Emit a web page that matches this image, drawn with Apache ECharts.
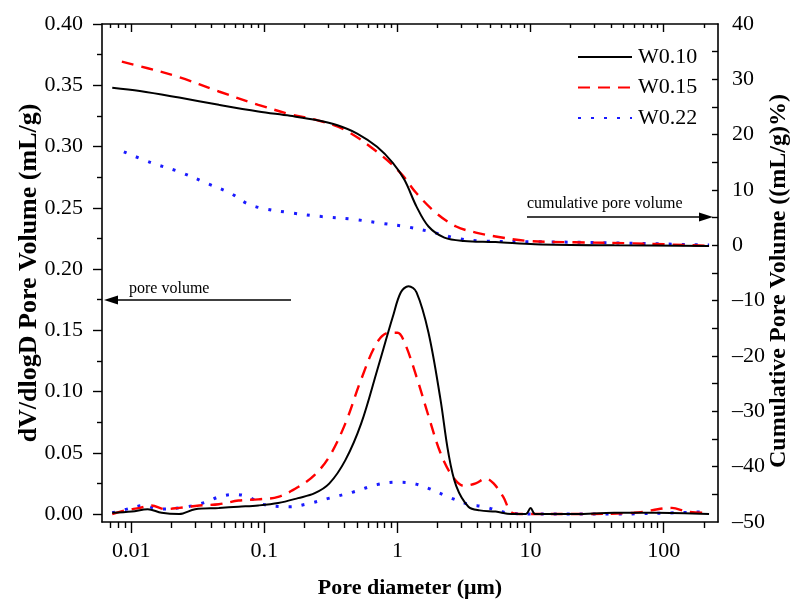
<!DOCTYPE html>
<html><head><meta charset="utf-8">
<script src="https://cdn.jsdelivr.net/npm/echarts@6/dist/echarts.min.js"></script>
<style>html,body{margin:0;padding:0;background:#fff}#c{width:797px;height:602px}</style>
</head><body><div id="c"></div>
<script>
// ---- data ----
const seriesNames = ['W0.10', 'W0.15', 'W0.22'];

// cumulative pore volume ((mL/g)%), right axis
const cumD_W010 = [0.0072,0.0116,0.0229,0.0455,0.090,0.156,0.251,0.354,0.498,0.702,0.922,1.13,1.39,1.71,2.25,3.16,5.46,10.8,42.5,219];
const cumV_W010 = [28.5,27.9,26.7,25.4,24.2,23.4,22.6,21.7,20.2,17.8,14.9,11.8,7.0,3.4,1.4,0.8,0.6,0.2,0.0,-0.1];

const cumD_W015 = [0.0085,0.0133,0.0229,0.0455,0.090,0.156,0.251,0.406,0.702,1.06,1.39,1.96,2.76,3.88,5.46,9.44,21.4,59.7,227];
const cumV_W015 = [33.2,32.0,30.4,27.8,25.4,23.7,22.6,20.8,16.9,13.0,9.4,5.8,3.4,2.3,1.6,0.8,0.55,0.35,-0.1];

const cumD_W022 = [0.0088,0.0142,0.0229,0.0371,0.0559,0.0735,0.0965,0.156,0.269,0.466,0.752,1.21,1.96,2.76,4.15,10.8,42.5,219];
const cumV_W022 = [16.9,14.9,13.3,11.2,9.4,7.6,6.7,5.9,5.2,4.7,4.0,3.3,2.2,1.3,0.8,0.65,0.45,0.05];

// dV/dlogD pore volume (mL/g), left axis
const pvD_W010 = [0.0072,0.0101,0.0133,0.0169,0.0229,0.0302,0.0455,0.064,0.090,0.127,0.179,0.239,0.308,0.406,0.534,0.702,0.922,1.06,1.21,1.39,1.71,2.10,2.41,2.76,3.41,4.15,5.46,7.16,9.2,10.0,10.8,21.4,42.5,84.6,219];
const pvV_W010 = [0.001,0.002,0.004,0.001,0.000,0.004,0.005,0.006,0.007,0.009,0.013,0.017,0.025,0.044,0.074,0.117,0.161,0.181,0.186,0.181,0.148,0.094,0.050,0.023,0.006,0.003,0.002,0.000,0.000,0.005,0.000,0.000,0.001,0.001,0.000];

const pvD_W015 = [0.0072,0.0090,0.0116,0.0142,0.018,0.0229,0.0324,0.0455,0.064,0.090,0.127,0.179,0.239,0.308,0.406,0.534,0.702,0.865,1.00,1.13,1.39,1.71,2.10,2.58,3.16,3.87,4.62,5.27,6.23,7.26,8.76,21.4,59.7,115,150,219];
const pvV_W015 = [0.000,0.003,0.005,0.007,0.004,0.005,0.007,0.008,0.011,0.012,0.014,0.022,0.032,0.047,0.074,0.110,0.140,0.148,0.148,0.140,0.112,0.080,0.050,0.031,0.023,0.025,0.029,0.025,0.014,0.001,0.000,0.000,0.001,0.005,0.002,0.001];

const pvD_W022 = [0.0072,0.0101,0.0124,0.0163,0.0263,0.0371,0.0455,0.0597,0.0761,0.0965,0.156,0.205,0.308,0.466,0.702,1.00,1.30,1.71,2.41,3.41,4.47,6.7,10.8,42.5,120,219];
const pvV_W022 = [0.001,0.005,0.007,0.004,0.006,0.010,0.014,0.016,0.014,0.008,0.006,0.008,0.013,0.018,0.024,0.026,0.025,0.021,0.014,0.008,0.006,0.001,0.000,0.000,0.001,0.002];

// axis ticks / labels
const xMajorTicks = [0.01, 0.1, 1, 10, 100];
const xMinorTicks = [0.007,0.008,0.009,0.02,0.03,0.04,0.05,0.06,0.07,0.08,0.09,0.2,0.3,0.4,0.5,0.6,0.7,0.8,0.9,2,3,4,5,6,7,8,9,20,30,40,50,60,70,80,90,200];
const leftMajor = [0,0.05,0.10,0.15,0.20,0.25,0.30,0.35,0.40];
const leftMinor = [0.025,0.075,0.125,0.175,0.225,0.275,0.325,0.375];
const rightLabels = [-50,-40,-30,-20,-10,0,10,20,30,40];
const rightTicks = [-45,-40,-35,-30,-25,-20,-15,-10,-5,0,5,10,15,20,25,30,35];

// ---- chart ----
const zip = (a, b) => a.map((v, i) => [v, b[i]]);
const FONT = '"Liberation Serif", "Times New Roman", serif';
const XMIN = 0.00603, XMAX = 255.6;
const colors = ['#000000', '#ff0000', '#1a1aff'];
const lineStyles = [
  {color: colors[0], width: 2, type: 'solid'},
  {color: colors[1], width: 2.4, type: [12, 8]},
  {color: colors[2], width: 3, type: [3, 10]}
];

function xAx(pos, ticks, len, inside, showLabel, showLine) {
  return {
    type: 'log', logBase: 10, min: XMIN, max: XMAX, position: pos, gridIndex: 0,
    axisLine: {show: showLine, onZero: false, lineStyle: {color: '#000', width: 1.6}},
    axisTick: {show: true, inside: inside, length: len, customValues: ticks, lineStyle: {color: '#000', width: 1.4}},
    axisLabel: {show: showLabel, customValues: ticks, margin: 18, fontFamily: FONT, fontSize: 22, color: '#000',
      formatter: v => String(+v.toPrecision(3))},
    splitLine: {show: false}, minorTick: {show: false}, minorSplitLine: {show: false}
  };
}

const series = [];
const cumD = [cumD_W010, cumD_W015, cumD_W022], cumV = [cumV_W010, cumV_W015, cumV_W022];
const pvD = [pvD_W010, pvD_W015, pvD_W022], pvV = [pvV_W010, pvV_W015, pvV_W022];
for (let i = 2; i >= 0; i--) {
  series.push({name: seriesNames[i], type: 'line', xAxisIndex: 0, yAxisIndex: 2, data: zip(cumD[i], cumV[i]),
    symbol: 'none', showSymbol: false, smooth: 0.35, lineStyle: lineStyles[i], itemStyle: {color: colors[i]}, z: 3 + (2 - i)});
  series.push({name: seriesNames[i], type: 'line', xAxisIndex: 0, yAxisIndex: 0, data: zip(pvD[i], pvV[i]),
    symbol: 'none', showSymbol: false, smooth: 0.35, lineStyle: lineStyles[i], itemStyle: {color: colors[i]}, z: 3 + (2 - i)});
}

const chart = echarts.init(document.getElementById('c'), null, {renderer: 'canvas'});
chart.setOption({
  animation: false,
  backgroundColor: '#fff',
  grid: {left: 102, right: 79, top: 24, bottom: 80, containLabel: false, outerBoundsMode: 'none'},
  legend: {
    data: seriesNames, left: 577, top: 46, orient: 'vertical', padding: 0,
    itemWidth: 54, itemHeight: 14, itemGap: 8.5,
    itemStyle: {opacity: 0, borderWidth: 0},
    textStyle: {fontFamily: FONT, fontSize: 22, color: '#000', padding: [0,0,0,1]}
  },
  xAxis: [
    Object.assign(xAx('bottom', xMajorTicks, 11, false, true, true), {
      name: 'Pore diameter (μm)', nameLocation: 'middle', nameGap: 55,
      nameTextStyle: {fontFamily: FONT, fontSize: 22, fontWeight: 'bold', color: '#000'}
    }),
    xAx('bottom', xMinorTicks, 6, false, false, false),
    xAx('top', xMajorTicks, 8, true, false, true),
    xAx('top', xMinorTicks, 4, true, false, false)
  ],
  yAxis: [
    {
      type: 'value', min: -0.0065, max: 0.4, position: 'left',
      name: 'dV/dlogD Pore Volume (mL/g)', nameLocation: 'middle', nameGap: 60, nameRotate: 90, nameMoveOverlap: false,
      nameTextStyle: {fontFamily: FONT, fontSize: 26, fontWeight: 'bold', color: '#000'},
      axisLine: {show: true, lineStyle: {color: '#000', width: 1.6}},
      axisTick: {show: true, inside: false, length: 9, customValues: leftMajor, lineStyle: {color: '#000', width: 1.4}},
      axisLabel: {customValues: leftMajor, margin: 19, fontFamily: FONT, fontSize: 22, color: '#000', formatter: v => (+v).toFixed(2)},
      splitLine: {show: false}
    },
    {
      type: 'value', min: -0.0065, max: 0.4, position: 'left',
      axisLine: {show: false},
      axisTick: {show: true, inside: false, length: 5, customValues: leftMinor, lineStyle: {color: '#000', width: 1.4}},
      axisLabel: {show: false}, splitLine: {show: false}
    },
    {
      type: 'value', min: -50, max: 40, position: 'right',
      name: 'Cumulative Pore Volume ((mL/g)%)', nameLocation: 'middle', nameGap: 49, nameRotate: 90, nameMoveOverlap: false,
      nameTextStyle: {fontFamily: FONT, fontSize: 24, fontWeight: 'bold', color: '#000', padding: [0, 16, 0, 0]},
      axisLine: {show: true, lineStyle: {color: '#000', width: 1.6}},
      axisTick: {show: true, inside: true, length: 6, customValues: rightTicks, lineStyle: {color: '#000', width: 1.4}},
      axisLabel: {customValues: rightLabels, margin: 14, fontFamily: FONT, fontSize: 22, color: '#000',
        formatter: v => (v < 0 ? '\u2013' + Math.abs(v) : String(v))},
      splitLine: {show: false}
    }
  ],
  graphic: [
    {type: 'text', x: 527, y: 204, style: {text: 'cumulative pore volume', font: '16px "Liberation Serif"', fill: '#000', verticalAlign: 'middle'}},
    {type: 'line', shape: {x1: 527, y1: 217, x2: 701, y2: 217}, style: {stroke: '#000', lineWidth: 1.3}},
    {type: 'polygon', shape: {points: [[713, 217], [699, 212.5], [699, 221.5]]}, style: {fill: '#000'}},
    {type: 'text', x: 129, y: 289, style: {text: 'pore volume', font: '16px "Liberation Serif"', fill: '#000', verticalAlign: 'middle'}},
    {type: 'line', shape: {x1: 117, y1: 300, x2: 291, y2: 300}, style: {stroke: '#000', lineWidth: 1.3}},
    {type: 'polygon', shape: {points: [[104, 300], [118, 295.5], [118, 304.5]]}, style: {fill: '#000'}}
  ],
  series: series
});
</script>
</body></html>
